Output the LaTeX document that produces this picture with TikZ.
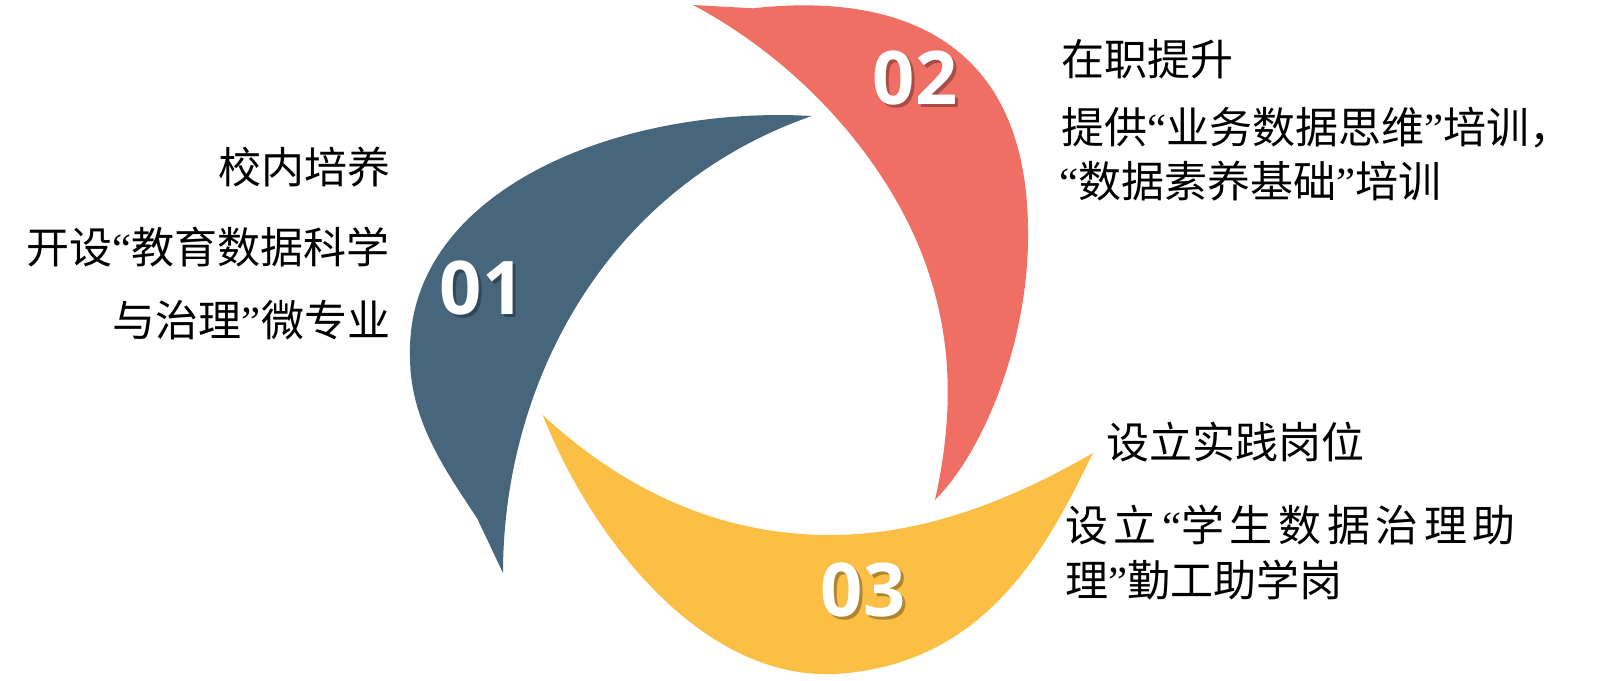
\documentclass[tikz,border=0pt]{standalone}
\usepackage{fontspec}
\newfontfamily\cjk{Noto Sans CJK SC}
\newfontfamily\qfont{Liberation Serif}
\newfontfamily\numfont{Open Sans}
\newcommand\myLQ{{\qfont “}}
\newcommand\myRQ{{\qfont ”}}
\newcommand\gp{\hspace{2.8pt}}
\definecolor{cblue}{RGB}{71,102,124}
\definecolor{cred}{RGB}{240,111,101}
\definecolor{cyellow}{RGB}{251,191,70}
\tikzset{
  lab/.style={inner sep=0pt, outer sep=0pt, font=\cjk\fontsize{21.5}{26}\selectfont, text=black},
  num/.style={inner sep=0pt, outer sep=0pt, font=\numfont\bfseries\fontsize{37}{40}\selectfont, text=white},
  numshadow/.style={num, text=black, text opacity=0.30},
}
\begin{document}
\begin{tikzpicture}[x=0.5pt, y=-0.5pt]
\useasboundingbox (0,0) rectangle (1600,680);

% blue swirl
\fill[cblue] (811.7,116)
  .. controls (620,105) and (405,190) .. (410,357)
  .. controls (410,420) and (445,470) .. (477,518)
  -- (503,573)
  .. controls (503,390) and (600,190) .. (811.7,116) -- cycle;

% red swirl
\fill[cred] (693,5) -- (753,8.3)
  .. controls (900,-8) and (1030,40) .. (1028,237)
  .. controls (1028,340) and (985,450) .. (935,500)
  .. controls (955,410) and (950,340) .. (930,277)
  .. controls (900,180) and (815,70) .. (693,5) -- cycle;

% yellow swirl
\fill[cyellow] (542.7,415)
  .. controls (640,505) and (740,535) .. (830,535)
  .. controls (930,535) and (1020,495) .. (1093,453)
  .. controls (1050,540) and (990,665) .. (835,674)
  .. controls (700,680) and (590,535) .. (542.7,415) -- cycle;

% numbers with shadows
\node[numshadow] (n1s) at (485,291) {01};
\node[num] (n1) at (482,288) {01};
\node[numshadow] (n2s) at (918,81) {02};
\node[num] (n2) at (915,78) {02};
\node[numshadow] (n3s) at (866,593) {03};
\node[num] (n3) at (863,590) {03};

% left texts
\node[lab, anchor=base east] (t1a) at (390,183) {校内培养};
\node[lab, anchor=base east] (t1b) at (390,263) {开设\myLQ 教育数据科学};
\node[lab, anchor=base east] (t1c) at (390,336) {与治理\myRQ 微专业};

% right top texts
\node[lab, anchor=base west] (t2a) at (1061,75) {在职提升};
\node[lab, anchor=base west] (t2b) at (1061,143) {提供\myLQ 业务数据思维\myRQ 培训，};
\node[lab, anchor=base west] (t2c) at (1059,197) {\myLQ 数据素养基础\myRQ 培训};

% right bottom texts
\node[lab, anchor=base west] (t3a) at (1106,458) {设立实践岗位};
\node[lab, anchor=base west] (t3b) at (1065,541) {设\gp 立\gp\myLQ 学\gp 生\gp 数\gp 据\gp 治\gp 理\gp 助};
\node[lab, anchor=base west] (t3c) at (1065,596) {理\myRQ 勤工助学岗};
\end{tikzpicture}
\end{document}
